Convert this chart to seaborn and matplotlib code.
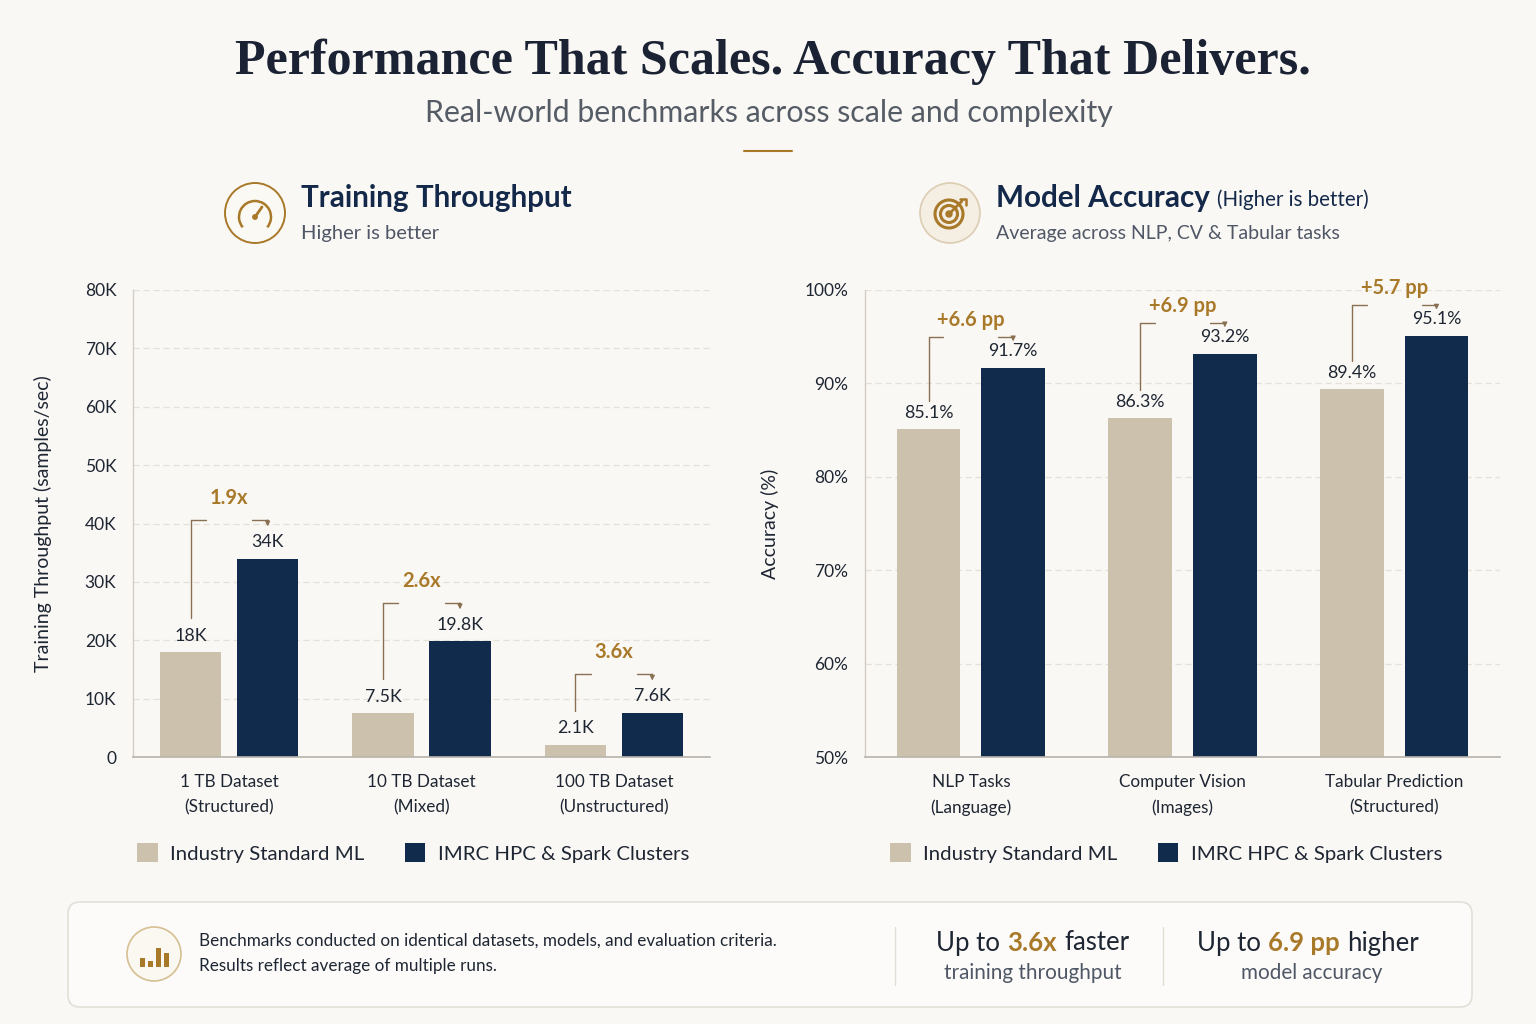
import matplotlib
matplotlib.use("Agg")
import matplotlib.pyplot as plt
import seaborn as sns
import pandas as pd
from matplotlib.patches import FancyBboxPatch, Circle, Arc, Rectangle, Patch

# ---------------- data ----------------
datasets = ["1 TB Dataset", "10 TB Dataset", "100 TB Dataset"]
dataset_types = ["(Structured)", "(Mixed)", "(Unstructured)"]
throughput_std = [18000, 7500, 2100]
throughput_imrc = [34000, 19800, 7600]
throughput_std_labels = ["18K", "7.5K", "2.1K"]
throughput_imrc_labels = ["34K", "19.8K", "7.6K"]
speedups = ["1.9x", "2.6x", "3.6x"]
throughput_ticks = [0, 10000, 20000, 30000, 40000, 50000, 60000, 70000, 80000]
throughput_ticklabels = ["0", "10K", "20K", "30K", "40K", "50K", "60K", "70K", "80K"]

tasks = ["NLP Tasks", "Computer Vision", "Tabular Prediction"]
task_types = ["(Language)", "(Images)", "(Structured)"]
acc_std = [85.1, 86.3, 89.4]
acc_imrc = [91.7, 93.2, 95.1]
acc_std_labels = ["85.1%", "86.3%", "89.4%"]
acc_imrc_labels = ["91.7%", "93.2%", "95.1%"]
acc_gains = ["+6.6 pp", "+6.9 pp", "+5.7 pp"]
acc_ticks = [50, 60, 70, 80, 90, 100]
acc_ticklabels = ["50%", "60%", "70%", "80%", "90%", "100%"]

series = ["Industry Standard ML", "IMRC HPC & Spark Clusters"]

# ---------------- style ----------------
BG = "#FAF8F4"
TAN = "#CBC1AD"
NAVY = "#102B4C"
GOLD = "#A9792A"
DARK = "#1E2633"
GRAY = "#4F5766"
BRACKET = "#8A7052"
GRID = "#E4E0DA"
FONT = "Lato"

sns.set_theme(style="white")
plt.rcParams["font.family"] = [FONT, "DejaVu Sans"]

fig = plt.figure(figsize=(15.36, 10.24), dpi=100, facecolor=BG)

# decoration axes in pixel coordinates
deco = fig.add_axes([0, 0, 1, 1], zorder=0)
deco.set_xlim(0, 1536)
deco.set_ylim(1024, 0)
deco.axis("off")
deco.set_facecolor("none")

renderer = fig.canvas.get_renderer()


def fit_width(t, target):
    w = t.get_window_extent(renderer=renderer).width
    t.set_fontsize(t.get_fontsize() * target / w)


def rich_text(x, y, parts, fontsize, ha="center", gap=0.28):
    texts, widths = [], []
    for s, c, w in parts:
        t = deco.text(0, y, s, color=c, fontweight=w, fontsize=fontsize,
                      va="center", ha="left")
        widths.append(t.get_window_extent(renderer=renderer).width)
        texts.append(t)
    g = fontsize * 100 / 72 * gap
    total = sum(widths) + g * (len(parts) - 1)
    start = x - total / 2 if ha == "center" else x
    for t, w in zip(texts, widths):
        t.set_x(start)
        start += w + g
    return texts


# ---------------- header ----------------
title = deco.text(773, 62, "Performance That Scales. Accuracy That Delivers.",
                  fontsize=36, fontweight="bold", color="#1A2233",
                  family=["Liberation Serif", "DejaVu Serif"], ha="center", va="center")
fit_width(title, 1077)
deco.text(769, 113, "Real-world benchmarks across scale and complexity",
          fontsize=21.8, color="#555C66", ha="center", va="center")
deco.plot([744, 792], [151, 151], color=GOLD, lw=1.5)

# section headers
deco.add_patch(Circle((255, 213), 30, facecolor="#FBF9F4", edgecolor=GOLD, lw=1.4))
deco.add_patch(Arc((255, 217), 32, 32, theta1=140, theta2=40, color=GOLD, lw=1.8))
deco.plot([255, 262], [217, 207], color=GOLD, lw=2.0, solid_capstyle="round")
deco.add_patch(Circle((255, 217), 2.2, color=GOLD))
deco.text(301, 198, "Training Throughput", fontsize=21.3, fontweight="bold",
          color="#14294A", va="center", ha="left")
deco.text(301, 234, "Higher is better", fontsize=14.5, color=GRAY,
          va="center", ha="left")

deco.add_patch(Circle((950, 213), 30, facecolor="#F4EEE3", edgecolor="#DCCDB3", lw=1.2))
for r in (14, 8.5):
    deco.add_patch(Circle((949, 214), r, facecolor="none", edgecolor=GOLD, lw=2.2))
deco.add_patch(Circle((949, 214), 3, color=GOLD))
deco.plot([949, 962], [214, 201], color=GOLD, lw=2.0)
deco.plot([960, 966, 966], [199, 199, 205], color=GOLD, lw=1.8)
t_ma = rich_text(996, 198, [("Model Accuracy", "#14294A", "bold")], 21.3, ha="left")[0]
w_ma = t_ma.get_window_extent(renderer=renderer).width
deco.text(996 + w_ma + 7, 200, "(Higher is better)", fontsize=14.8,
          color="#14294A", va="center", ha="left")
deco.text(996, 234, "Average across NLP, CV & Tabular tasks", fontsize=14,
          color=GRAY, va="center", ha="left")

# ---------------- charts ----------------
ax1 = fig.add_axes([133 / 1536, 1 - 757 / 1024, (710 - 133) / 1536, 467 / 1024], zorder=1)
ax2 = fig.add_axes([865 / 1536, 1 - 757 / 1024, (1500 - 865) / 1536, 467 / 1024], zorder=1)

df1 = pd.DataFrame({
    "cat": [f"{d}\n{t}" for d, t in zip(datasets, dataset_types)] * 2,
    "val": throughput_std + throughput_imrc,
    "series": [series[0]] * 3 + [series[1]] * 3,
})
df2 = pd.DataFrame({
    "cat": [f"{d}\n{t}" for d, t in zip(tasks, task_types)] * 2,
    "val": acc_std + acc_imrc,
    "series": [series[0]] * 3 + [series[1]] * 3,
})

palette = {series[0]: TAN, series[1]: NAVY}


def draw(ax, df, ylim, ticks, ticklabels, ylabel, label_x,
         std_vals, imrc_vals, std_labels, imrc_labels, gains,
         d_low, d_br, d_txt, d_arrow, dx, gap):
    sns.barplot(data=df, x="cat", y="val", hue="series", palette=palette,
                width=0.8, gap=gap, saturation=1, legend=False, ax=ax,
                edgecolor="none", err_kws={"linewidth": 0})
    ax.set_facecolor("none")
    ax.set_xlim(-0.5, 2.5)
    ax.set_ylim(*ylim)
    ax.set_yticks(ticks)
    ax.set_yticklabels(ticklabels, fontsize=12.5, color=DARK)
    ax.tick_params(axis="y", length=0, pad=12)
    ax.tick_params(axis="x", length=0, pad=12)
    for lbl in ax.get_xticklabels():
        lbl.set_fontsize(12.3)
        lbl.set_color(DARK)
        lbl.set_linespacing(1.75)
    ax.set_xlabel("")
    ax.set_ylabel(ylabel, fontsize=14, color=DARK)
    ax.yaxis.set_label_coords(label_x, 0.5)
    ax.grid(axis="y", color=GRID, linestyle=(0, (5, 3)), lw=0.9)
    ax.set_axisbelow(True)
    for s in ("top", "right"):
        ax.spines[s].set_visible(False)
    ax.spines["left"].set_color("#D2CEC7")
    ax.spines["bottom"].set_color("#B8B3AB")
    ax.spines["left"].set_linewidth(1.0)
    ax.spines["bottom"].set_linewidth(1.2)

    c_std, c_imrc = ax.containers[0], ax.containers[1]
    for i in range(3):
        bs, bi = c_std[i], c_imrc[i]
        xt = bs.get_x() + bs.get_width() / 2
        xn = bi.get_x() + bi.get_width() / 2
        ax.annotate(std_labels[i], (xt, std_vals[i]), xytext=(0, 6),
                    textcoords="offset points", ha="center", va="bottom",
                    fontsize=12.8, color=DARK)
        ax.annotate(imrc_labels[i], (xn, imrc_vals[i]), xytext=(0, 6),
                    textcoords="offset points", ha="center", va="bottom",
                    fontsize=12.8, color=DARK)
        yb = imrc_vals[i] + d_br
        ax.plot([xt, xt], [std_vals[i] + d_low, yb], color=BRACKET, lw=1.0)
        ax.plot([xt, xt + dx], [yb, yb], color=BRACKET, lw=1.0)
        ax.plot([xn - dx, xn], [yb, yb], color=BRACKET, lw=1.0)
        ax.annotate("", xy=(xn, yb - d_arrow), xytext=(xn, yb),
                    arrowprops=dict(arrowstyle="-|>", color=BRACKET, lw=0.9,
                                    mutation_scale=7, shrinkA=0, shrinkB=0))
        ax.text((xt + xn) / 2, yb + d_txt, gains[i], ha="center", va="center",
                fontsize=14.5, fontweight="bold", color=GOLD, clip_on=False)


draw(ax1, df1, (0, 80000), throughput_ticks, throughput_ticklabels,
     "Training Throughput (samples/sec)", -0.14,
     throughput_std, throughput_imrc, throughput_std_labels,
     throughput_imrc_labels, speedups,
     d_low=5800, d_br=6600, d_txt=3800, d_arrow=1100, dx=0.08, gap=0.2)
draw(ax2, df2, (50, 100), acc_ticks, acc_ticklabels, "Accuracy (%)", -0.135,
     acc_std, acc_imrc, acc_std_labels, acc_imrc_labels, acc_gains,
     d_low=3.0, d_br=3.3, d_txt=1.8, d_arrow=0.5, dx=0.07, gap=0.25)

# ---------------- legends ----------------
handles = [Patch(facecolor=TAN, edgecolor="none"), Patch(facecolor=NAVY, edgecolor="none")]
for cx in (413, 1166):
    fig.legend(handles, series, loc="center", bbox_to_anchor=(cx / 1536, 1 - 853 / 1024),
               ncol=2, frameon=False, fontsize=14.7, handlelength=1.0, handleheight=1.0,
               handletextpad=0.6, columnspacing=2.0, labelcolor=DARK)

# ---------------- bottom box ----------------
deco.add_patch(FancyBboxPatch((68, 902), 1404, 105,
                              boxstyle="round,pad=0,rounding_size=12",
                              facecolor="#FCFBF9", edgecolor="#E3DFD8", lw=1.2))
deco.add_patch(Circle((154, 954), 27, facecolor="#FBF8F2", edgecolor="#D6BF93", lw=1.2))
for bx, bh in zip([140, 148, 156, 164], [9, 6, 19, 14]):
    deco.add_patch(Rectangle((bx, 967 - bh), 5, bh, facecolor=GOLD, edgecolor="none"))
deco.text(199, 941, "Benchmarks conducted on identical datasets, models, and evaluation criteria.",
          fontsize=12.3, color=DARK, va="center", ha="left")
deco.text(199, 966, "Results reflect average of multiple runs.",
          fontsize=12.3, color=DARK, va="center", ha="left")
for xv in (895, 1163):
    deco.plot([xv, xv], [927, 985], color="#E2DED7", lw=1.0)
rich_text(1033, 943, [("Up to", DARK, "normal"), ("3.6x", GOLD, "bold"),
                      ("faster", DARK, "normal")], 18.5)
deco.text(1033, 973, "training throughput", fontsize=14.9, color=GRAY,
          ha="center", va="center")
rich_text(1308, 943, [("Up to", DARK, "normal"), ("6.9 pp", GOLD, "bold"),
                      ("higher", DARK, "normal")], 18.5)
deco.text(1312, 973, "model accuracy", fontsize=14.9, color=GRAY,
          ha="center", va="center")

fig.savefig("out.png", dpi=100, facecolor=BG)
